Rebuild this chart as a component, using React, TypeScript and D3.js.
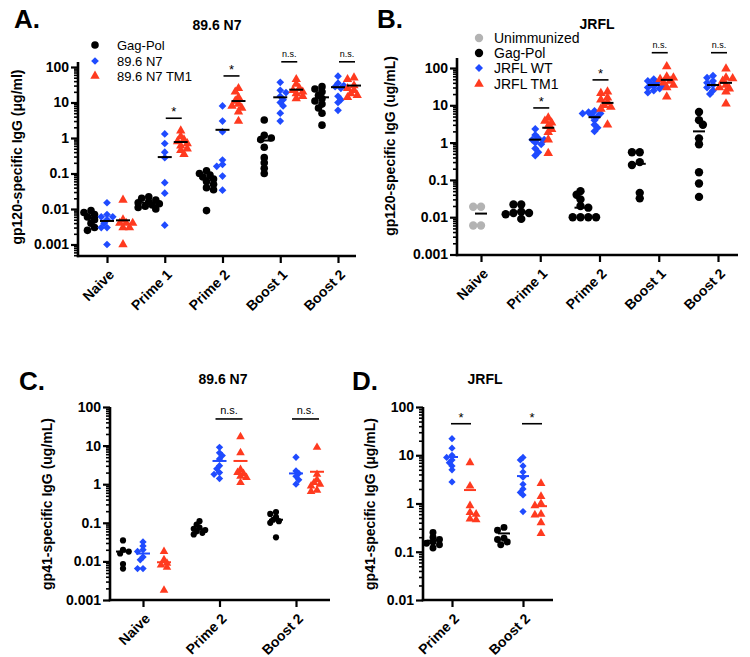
import { useEffect, useRef } from "react";
import * as d3 from "d3";

// ---------- Panel A: gp120, 89.6 N7 ----------
const timepointsA = ["Naive", "Prime 1", "Prime 2", "Boost 1", "Boost 2"];
const gagPolA = [
  [0.009, 0.008, 0.007, 0.006, 0.005, 0.004, 0.003, 0.0025],
  [0.022, 0.02, 0.018, 0.016, 0.015, 0.014, 0.013, 0.012, 0.011, 0.01],
  [0.12, 0.1, 0.09, 0.08, 0.07, 0.06, 0.05, 0.04, 0.035, 0.009],
  [3.2, 1.2, 1.0, 0.9, 0.55, 0.28, 0.2, 0.14, 0.1],
  [28, 24, 20, 16, 13, 11, 9, 7, 5, 2.3],
];
const gagPolMeanA = [0.0058, 0.015, 0.074, 0.85, 14];
const n7A = [
  [0.015, 0.007, 0.006, 0.006, 0.005, 0.004, 0.003, 0.003, 0.001],
  [1.3, 0.7, 0.4, 0.28, 0.055, 0.028, 0.0035],
  [8, 3, 1.5, 0.24, 0.18, 0.16, 0.085, 0.034],
  [37, 22, 19, 15, 12, 10, 8, 5, 3],
  [55, 35, 30, 28, 25, 15, 12, 10, 6],
];
const n7MeanA = [0.0046, 0.29, 1.7, 14, 27];
const tm1A = [
  [0.018, 0.005, 0.004, 0.004, 0.004, 0.003, 0.003, 0.001],
  [1.6, 1.1, 0.9, 0.8, 0.7, 0.6, 0.5, 0.45, 0.35],
  [25, 20, 14, 11, 9, 8, 7, 5.5, 3],
  [45, 33, 25, 22, 20, 18, 15, 13],
  [50, 45, 30, 25, 22, 18, 16, 14],
];
const tm1MeanA = [0.0048, 0.77, 11, 23, 30];
const legendA = ["Gag-Pol", "89.6 N7", "89.6 N7 TM1"];
const sigTimepointsA = ["Prime 1", "Prime 2", "Boost 1", "Boost 2"];
const sigLabelsA = ["*", "*", "n.s.", "n.s."];
const sigLevelsA = [3.6, 56, 140, 140];

// ---------- Panel B: gp120, JRFL ----------
const timepointsB = ["Naive", "Prime 1", "Prime 2", "Boost 1", "Boost 2"];
const unimmB = [[0.019, 0.019, 0.006, 0.006], [], [], [], []];
const unimmMeanB = [0.0125, null, null, null, null];
const gagPolB = [
  [],
  [0.022, 0.022, 0.014, 0.013, 0.013, 0.012, 0.009],
  [0.05, 0.04, 0.03, 0.02, 0.018, 0.01, 0.01, 0.01, 0.01],
  [0.55, 0.55, 0.3, 0.25, 0.045, 0.032],
  [6.6, 4, 3, 1.3, 0.9, 0.16, 0.08, 0.035],
];
const gagPolMeanB = [null, 0.014, 0.018, 0.27, 2.0];
const wtB = [
  [],
  [2.3, 1.6, 1.3, 1.2, 1.2, 1.0, 0.9, 0.7, 0.55, 0.45],
  [7, 6.5, 6, 6, 5.5, 5, 4, 3, 2.5, 2],
  [50, 45, 40, 38, 35, 32, 30, 28, 25, 22],
  [62, 55, 45, 40, 35, 30, 25, 20],
];
const wtMeanB = [null, 1.2, 4.8, 35, 35];
const tm1B = [
  [],
  [4.6, 3.8, 3.4, 2.8, 2.3, 1.9, 1.2, 0.52],
  [23, 21, 16, 14, 12, 10, 9, 8, 3],
  [110, 58, 55, 50, 45, 40, 35, 30, 17],
  [95, 55, 52, 45, 35, 30, 28, 23, 11],
];
const tm1MeanB = [null, 2.5, 11.6, 48, 40];
const legendB = ["Unimmunized", "Gag-Pol", "JRFL WT", "JRFL TM1"];
const sigTimepointsB = ["Prime 1", "Prime 2", "Boost 1", "Boost 2"];
const sigLabelsB = ["*", "*", "n.s.", "n.s."];
const sigLevelsB = [8.5, 48, 257, 257];

// ---------- Panel C: gp41, 89.6 N7 ----------
const timepointsC = ["Naive", "Prime 2", "Boost 2"];
const gagPolC = [
  [0.035, 0.02, 0.018, 0.016, 0.0085, 0.0065],
  [0.11, 0.09, 0.075, 0.07, 0.065, 0.06, 0.055, 0.05],
  [0.19, 0.17, 0.14, 0.12, 0.11, 0.1, 0.042],
];
const gagPolMeanC = [0.018, 0.068, 0.12];
const n7C = [
  [0.032, 0.025, 0.02, 0.018, 0.013, 0.011, 0.0065, 0.0065],
  [9, 6.5, 5.5, 4.5, 3, 2.5, 2, 1.8, 1.4],
  [5, 2.2, 1.9, 1.6, 1.3, 1.0],
];
const n7MeanC = [0.016, 4.0, 1.9];
const tm1C = [
  [0.018, 0.011, 0.009, 0.008, 0.007, 0.0018],
  [17, 6.5, 2.4, 2.0, 1.9, 1.6, 1.5, 1.1],
  [9, 1.8, 1.3, 1.1, 1.0, 0.9, 0.7, 0.65],
];
const tm1MeanC = [0.0095, 4.0, 2.1];
const sigTimepointsC = ["Prime 2", "Boost 2"];
const sigLabelsC = ["n.s.", "n.s."];
const sigLevelsC = [49, 49];

// ---------- Panel D: gp41, JRFL ----------
const timepointsD = ["Prime 2", "Boost 2"];
const gagPolD = [
  [0.25, 0.2, 0.18, 0.16, 0.15, 0.14, 0.12],
  [0.32, 0.28, 0.19, 0.18, 0.16, 0.14],
];
const gagPolMeanD = [0.17, 0.24];
const wtD = [
  [22, 14, 10, 9, 8, 7, 6, 5, 2.8],
  [9, 8, 6, 4.5, 3.5, 2.5, 2, 1.7, 1.5, 0.68],
];
const wtMeanD = [9.2, 3.7];
const tm1D = [
  [7, 2.3, 0.9, 0.65, 0.6, 0.48, 0.46],
  [2.6, 1.4, 1.0, 0.9, 0.6, 0.58, 0.4, 0.24],
];
const tm1MeanD = [1.9, 0.88];
const sigTimepointsD = ["Prime 2", "Boost 2"];
const sigLabelsD = ["*", "*"];
const sigLevelsD = [45, 45];

const FONT = "'Liberation Sans', Arial, Helvetica, sans-serif";
const BLACK = "#000000";
const BLUE = "#1f4bff";
const RED = "#ff3a1f";
const GRAY = "#b3b3b3";

const shapes: Record<string, d3.SymbolType> = {
  circle: d3.symbolCircle,
  diamond: d3.symbolSquare,
  triangle: d3.symbolTriangle,
};

function symbolPath(shape: string, size: number) {
  return d3.symbol().type(shapes[shape]).size(size)() as string;
}
function symbolRotate(shape: string) {
  return shape === "diamond" ? " rotate(45)" : "";
}

// prism-like scatter: nudge overlapping points sideways (points may still overlap a bit)
function beeswarm(ys: number[], dMin: number): number[] {
  const order = ys.map((_, i) => i).sort((a, b) => ys[a] - ys[b]);
  const placed: { x: number; y: number }[] = [];
  const out = new Array(ys.length).fill(0);
  const step = dMin * 0.75;
  order.forEach((i, n) => {
    const yy = ys[i];
    let pick = 0;
    for (let k = 0; k < 30; k++) {
      const m = Math.ceil(k / 2);
      const sign = (k % 2 === 1 ? 1 : -1) * (n % 2 === 0 ? 1 : -1);
      const cand = m * step * sign;
      const ok = placed.every((p) => (p.x - cand) ** 2 + (p.y - yy) ** 2 >= dMin * dMin);
      if (ok) {
        pick = cand;
        break;
      }
    }
    placed.push({ x: pick, y: yy });
    out[i] = pick;
  });
  return out;
}

function drawPanel(svg: any, p: any) {
  const g = svg.append("g");
  const x = d3.scalePoint<string>().domain(p.cats).range(p.catRange);
  const y = d3.scaleLog().domain(p.yDomain).range(p.yRange);

  // letter + title
  g.append("text").attr("x", p.letterX).attr("y", p.letterY)
    .style("font", `bold 26px ${FONT}`).text(p.letter);
  g.append("text").attr("x", p.titleX).attr("y", p.titleY).attr("text-anchor", "middle")
    .style("font", `bold 14px ${FONT}`).text(p.title);

  // y axis label
  g.append("text")
    .attr("transform", `translate(${p.yLabelX},${p.yLabelY}) rotate(-90)`)
    .attr("text-anchor", "middle").attr("dy", "0.35em")
    .style("font", `bold 14px ${FONT}`).text(p.yLabel);

  // y axis ticks
  const yTop = y.invert(p.axisTopY);
  const yBot = y.invert(p.axisBottomY);
  const majors: number[] = [];
  const minors: number[] = [];
  for (let d = Math.floor(Math.log10(yBot)); d <= Math.ceil(Math.log10(yTop)); d++) {
    const base = Math.pow(10, d);
    if (base >= p.yDomain[0] * 0.999 && base <= p.yDomain[1] * 1.001) majors.push(base);
    for (let k = 2; k <= 9; k++) {
      const v = k * base;
      if (v >= yBot && v <= yTop) minors.push(v);
    }
  }
  const yMinor = g.append("g").attr("transform", `translate(${p.axisLeftX},0)`)
    .call(d3.axisLeft(y).tickValues(minors).tickSize(4).tickFormat(() => ""));
  yMinor.select(".domain").remove();
  yMinor.selectAll("line").attr("stroke-width", 1.6);
  const yMajor = g.append("g").attr("transform", `translate(${p.axisLeftX},0)`)
    .call(d3.axisLeft(y).tickValues(majors).tickSize(7).tickPadding(2).tickFormat(d3.format("~g") as any));
  yMajor.select(".domain").remove();
  yMajor.selectAll("line").attr("stroke-width", 2.2);
  yMajor.selectAll("text").style("font", `bold 14px ${FONT}`).attr("fill", BLACK);

  // x axis
  const xAxis = g.append("g").attr("transform", `translate(0,${p.axisBottomY})`)
    .call(d3.axisBottom(x).tickSize(7));
  xAxis.select(".domain").remove();
  xAxis.selectAll("line").attr("stroke-width", 2.2);
  xAxis.selectAll("text")
    .attr("x", null).attr("y", null).attr("dy", "0.35em")
    .attr("text-anchor", "end")
    .attr("transform", "translate(4,16) rotate(-45)")
    .style("font", `bold 14px ${FONT}`).attr("fill", BLACK);

  // axis lines
  g.append("line").attr("x1", p.axisLeftX).attr("x2", p.axisLeftX)
    .attr("y1", p.axisTopY).attr("y2", p.axisBottomY + 1.2)
    .attr("stroke", BLACK).attr("stroke-width", 2.6);
  g.append("line").attr("x1", p.axisLeftX - 1.2).attr("x2", p.axisRightX)
    .attr("y1", p.axisBottomY).attr("y2", p.axisBottomY)
    .attr("stroke", BLACK).attr("stroke-width", 2.6);

  // points
  p.series.forEach((s: any) => {
    const dMin = Math.sqrt(s.size) * 0.7;
    s.values.forEach((vals: number[], ti: number) => {
      if (!vals || vals.length === 0) return;
      const cx = (x(p.cats[ti]) as number) + s.offset;
      const ys = vals.map((v) => y(v));
      const dx = beeswarm(ys, dMin);
      g.append("g").selectAll("path").data(vals).join("path")
        .attr("d", symbolPath(s.shape, s.size))
        .attr("transform", (_: number, i: number) => `translate(${cx + dx[i]},${ys[i]})${symbolRotate(s.shape)}`)
        .attr("fill", s.color);
    });
  });

  // mean lines
  p.series.forEach((s: any) => {
    s.means.forEach((m: number | null, ti: number) => {
      if (m == null) return;
      const cx = (x(p.cats[ti]) as number) + s.offset;
      g.append("line").attr("x1", cx - p.meanHalf).attr("x2", cx + p.meanHalf)
        .attr("y1", y(m)).attr("y2", y(m))
        .attr("stroke", s.meanColor).attr("stroke-width", 2);
    });
  });

  // significance bars
  p.sig.tps.forEach((tp: string, i: number) => {
    const x1 = (x(tp) as number) + p.sig.from;
    const x2 = (x(tp) as number) + p.sig.to;
    const yb = y(p.sig.levels[i]);
    g.append("line").attr("x1", x1).attr("x2", x2).attr("y1", yb).attr("y2", yb)
      .attr("stroke", BLACK).attr("stroke-width", 1.6);
    const lab = p.sig.labels[i];
    g.append("text").attr("x", (x1 + x2) / 2).attr("y", lab === "*" ? yb - 2 : yb - 5)
      .attr("text-anchor", "middle")
      .style("font", `${lab === "*" ? 13 : p.sig.nsSize}px ${FONT}`).text(lab);
  });

  // legend
  if (p.legend) {
    p.legend.items.forEach((name: string, i: number) => {
      const s = p.legend.styles[i];
      const ly = p.legend.ys[i];
      g.append("path").attr("d", symbolPath(s.shape, s.size))
        .attr("transform", `translate(${p.legend.x},${ly})${symbolRotate(s.shape)}`)
        .attr("fill", s.color);
      g.append("text").attr("x", p.legend.tx).attr("y", ly).attr("dy", "0.35em")
        .style("font", `${p.legend.fontSize}px ${FONT}`).text(name);
    });
  }
}

export default function App() {
  const svgRef = useRef<SVGSVGElement>(null);

  useEffect(() => {
    const svg = d3.select(svgRef.current);
    svg.selectAll("*").remove();
    svg.append("rect").attr("width", 750).attr("height", 657).attr("fill", "#fff");

    const stA = [
      { shape: "circle", color: BLACK, size: 45 },
      { shape: "diamond", color: BLUE, size: 30 },
      { shape: "triangle", color: RED, size: 38 },
    ];
    const stB = [
      { shape: "circle", color: GRAY, size: 55 },
      { shape: "circle", color: BLACK, size: 55 },
      { shape: "diamond", color: BLUE, size: 32 },
      { shape: "triangle", color: RED, size: 40 },
    ];
    const stC = [
      { shape: "circle", color: BLACK, size: 30 },
      { shape: "diamond", color: BLUE, size: 27 },
      { shape: "triangle", color: RED, size: 32 },
    ];
    const stD = [
      { shape: "circle", color: BLACK, size: 38 },
      { shape: "diamond", color: BLUE, size: 26 },
      { shape: "triangle", color: RED, size: 34 },
    ];

    const panels = [
      {
        letter: "A.", letterX: 14, letterY: 28, title: "89.6 N7", titleX: 217, titleY: 30,
        yLabel: "gp120-specific IgG (\u03bcg/ml)", yLabelX: 17, yLabelY: 157,
        cats: timepointsA, catRange: [107, 338], axisLeftX: 78, axisRightX: 356,
        axisTopY: 62, axisBottomY: 256, yDomain: [0.001, 100], yRange: [244.5, 67], meanHalf: 7,
        series: [
          { values: gagPolA, means: gagPolMeanA, offset: -16, meanColor: BLACK, ...stA[0] },
          { values: n7A, means: n7MeanA, offset: 0, meanColor: BLACK, ...stA[1] },
          { values: tm1A, means: tm1MeanA, offset: 16, meanColor: BLACK, ...stA[2] },
        ],
        sig: { tps: sigTimepointsA, labels: sigLabelsA, levels: sigLevelsA, from: 1, to: 17, nsSize: 9 },
        legend: { items: legendA, styles: stA, x: 95, tx: 117, ys: [45, 61, 76], fontSize: 13 },
      },
      {
        letter: "B.", letterX: 377, letterY: 28, title: "JRFL", titleX: 597, titleY: 29,
        yLabel: "gp120-specific IgG (ug/mL)", yLabelX: 390, yLabelY: 146,
        cats: timepointsB, catRange: [481, 718], axisLeftX: 457, axisRightX: 738,
        axisTopY: 58, axisBottomY: 255, yDomain: [0.001, 100], yRange: [254.5, 68], meanHalf: 6,
        series: [
          { values: unimmB, means: unimmMeanB, offset: 0, meanColor: BLACK, ...stB[0] },
          { values: gagPolB, means: gagPolMeanB, offset: -19, meanColor: BLACK, ...stB[1] },
          { values: wtB, means: wtMeanB, offset: -5, meanColor: BLACK, ...stB[2] },
          { values: tm1B, means: tm1MeanB, offset: 8, meanColor: BLACK, ...stB[3] },
        ],
        sig: { tps: sigTimepointsB, labels: sigLabelsB, levels: sigLevelsB, from: -7, to: 9, nsSize: 9 },
        legend: { items: legendB, styles: stB, x: 479, tx: 494, ys: [38, 53, 68, 84], fontSize: 14 },
      },
      {
        letter: "C.", letterX: 19, letterY: 390, title: "89.6 N7", titleX: 223, titleY: 384,
        yLabel: "gp41-specific IgG (ug/mL)", yLabelX: 47, yLabelY: 504,
        cats: timepointsC, catRange: [143, 296], axisLeftX: 110, axisRightX: 330,
        axisTopY: 407, axisBottomY: 600, yDomain: [0.001, 100], yRange: [600, 407], meanHalf: 7,
        series: [
          { values: gagPolC, means: gagPolMeanC, offset: -20, meanColor: BLACK, ...stC[0] },
          { values: n7C, means: n7MeanC, offset: 0, meanColor: BLUE, ...stC[1] },
          { values: tm1C, means: tm1MeanC, offset: 21, meanColor: RED, ...stC[2] },
        ],
        sig: { tps: sigTimepointsC, labels: sigLabelsC, levels: sigLevelsC, from: -4, to: 23, nsSize: 11 },
      },
      {
        letter: "D.", letterX: 352, letterY: 390, title: "JRFL", titleX: 485, titleY: 384,
        yLabel: "gp41-specific IgG (\u03bcg/mL)", yLabelX: 370, yLabelY: 504,
        cats: timepointsD, catRange: [452, 523], axisLeftX: 423, axisRightX: 553,
        axisTopY: 407, axisBottomY: 600, yDomain: [0.01, 100], yRange: [600, 407], meanHalf: 6,
        series: [
          { values: gagPolD, means: gagPolMeanD, offset: -19, meanColor: BLACK, ...stD[0] },
          { values: wtD, means: wtMeanD, offset: 0, meanColor: BLUE, ...stD[1] },
          { values: tm1D, means: tm1MeanD, offset: 18, meanColor: RED, ...stD[2] },
        ],
        sig: { tps: sigTimepointsD, labels: sigLabelsD, levels: sigLevelsD, from: -1, to: 19, nsSize: 11 },
      },
    ];

    panels.forEach((p) => drawPanel(svg, p));
  }, []);

  return (
    <svg
      ref={svgRef}
      width={750}
      height={657}
      style={{ position: "absolute", left: 0, top: 0, display: "block" }}
    />
  );
}
